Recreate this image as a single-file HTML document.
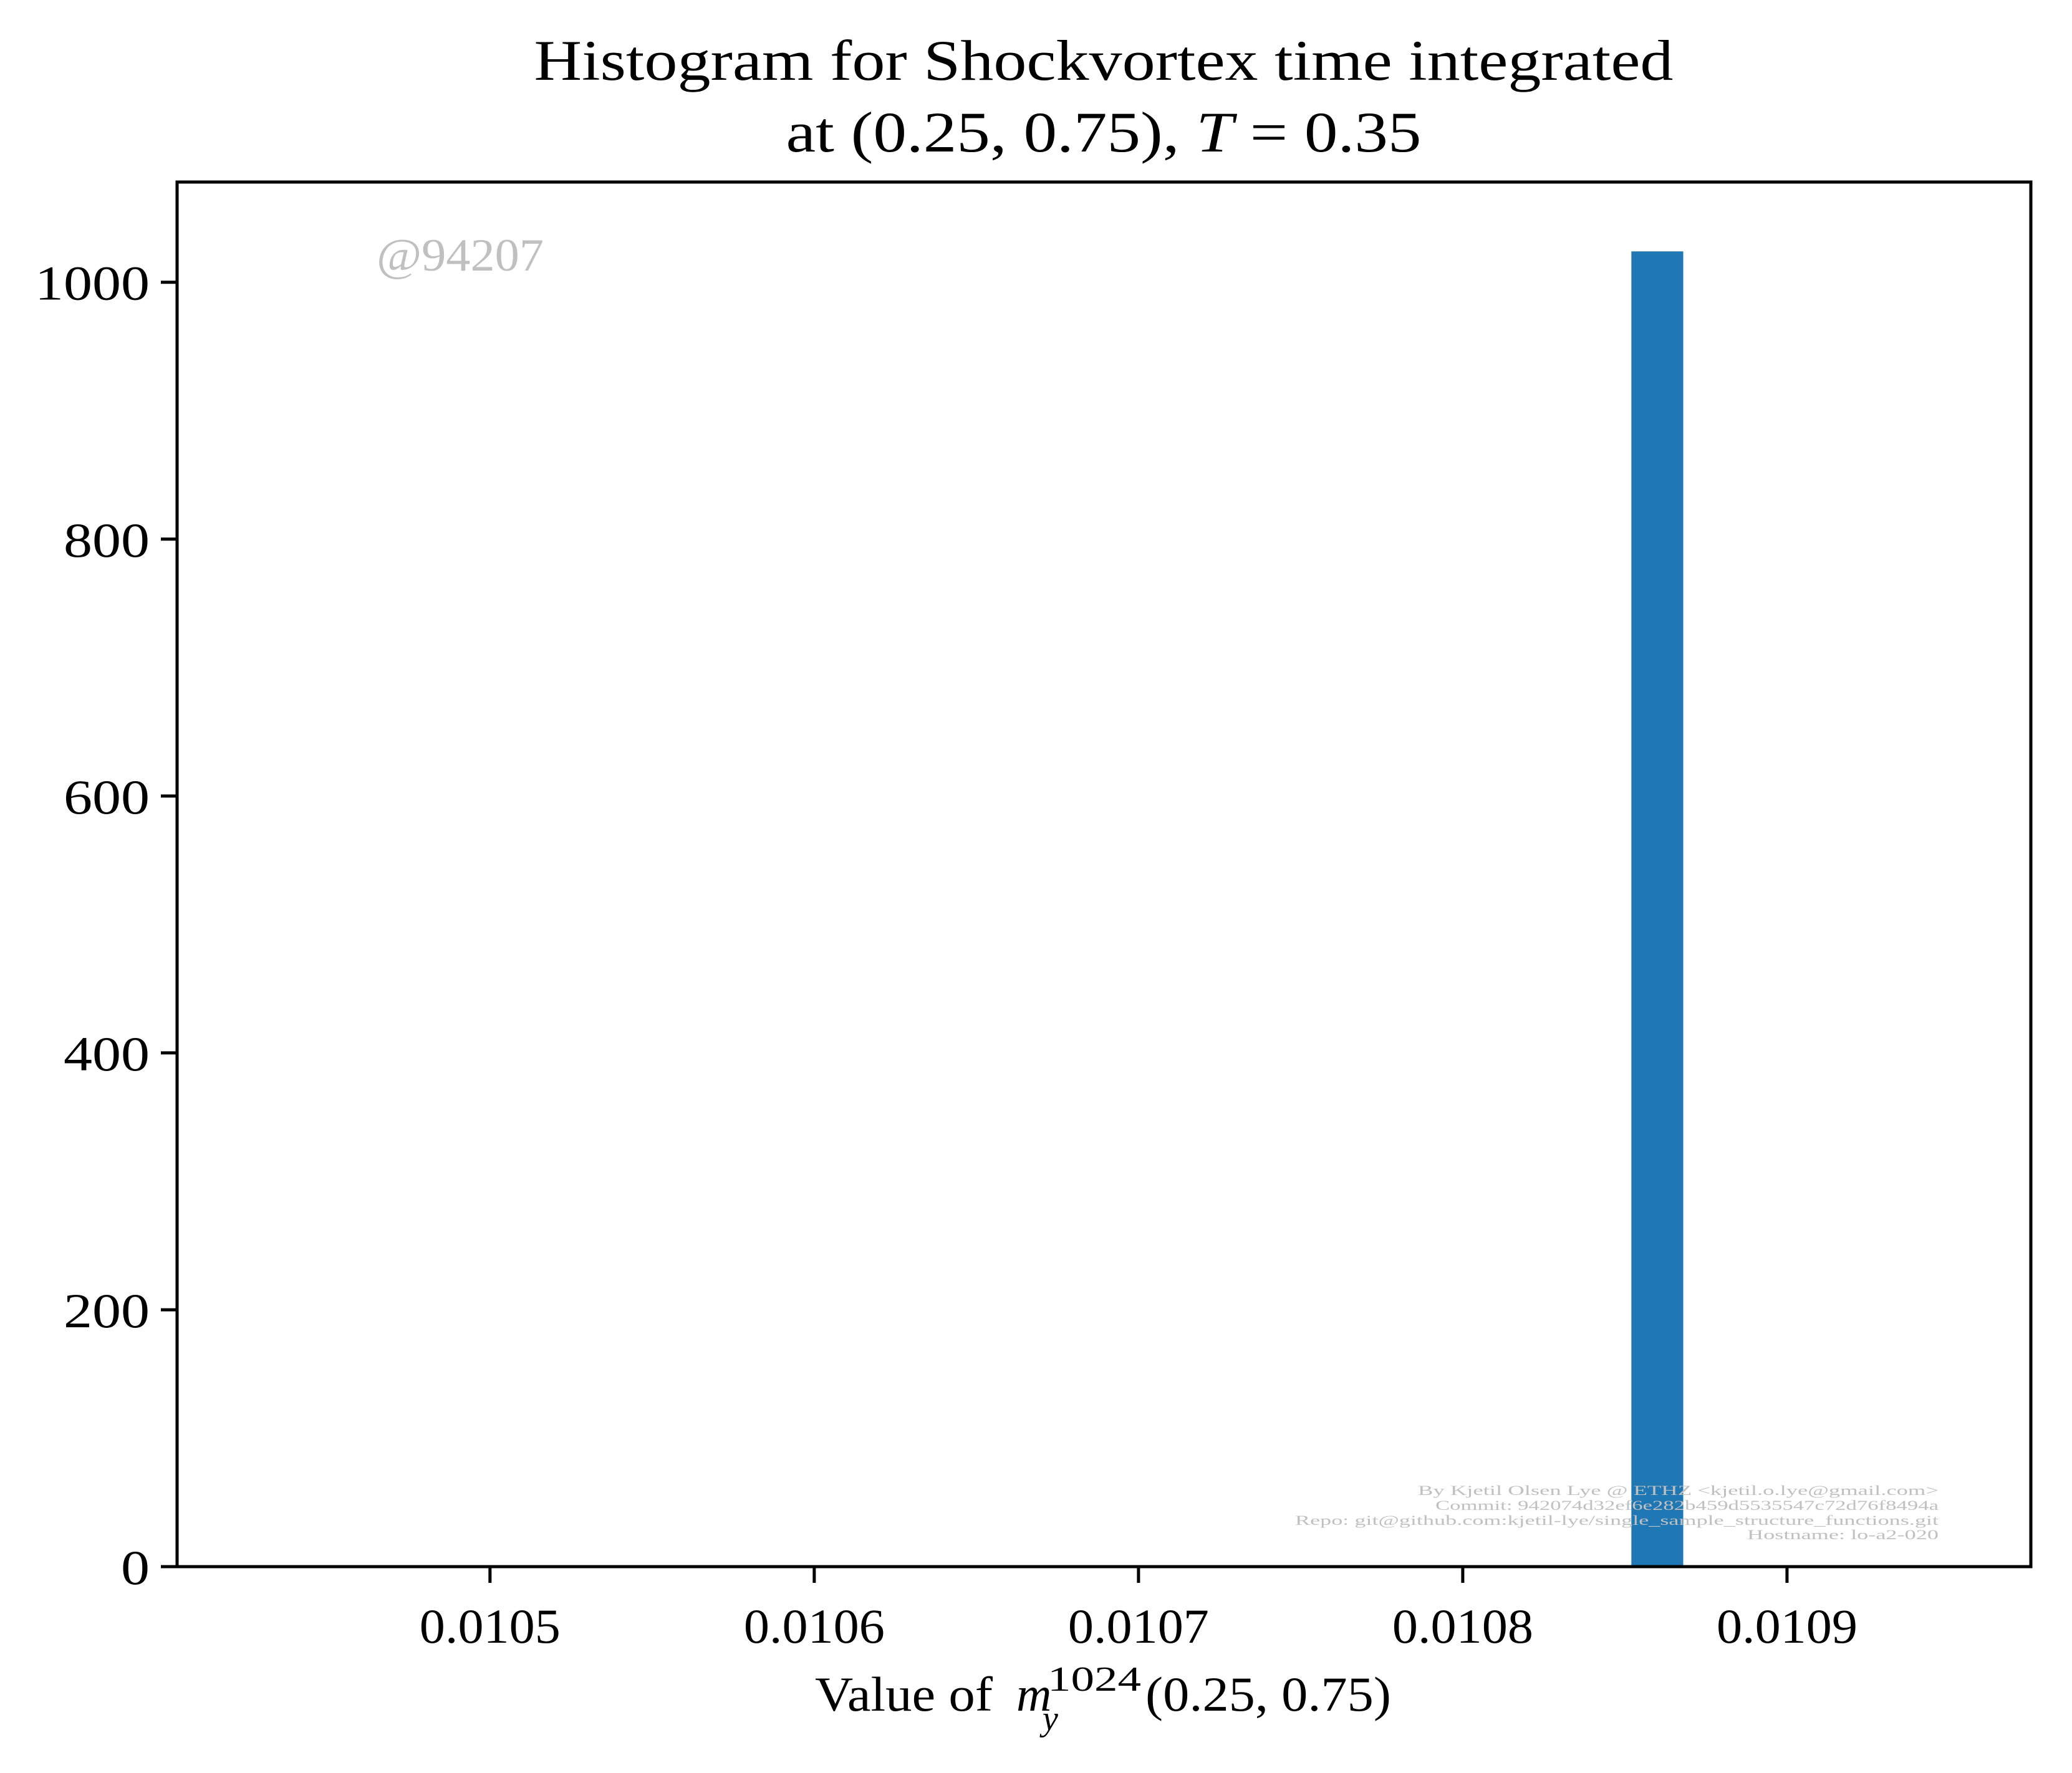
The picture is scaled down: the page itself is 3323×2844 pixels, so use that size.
<!DOCTYPE html>
<html><head><meta charset="utf-8"><style>
html,body{margin:0;padding:0;background:#fff;}
svg{display:block;font-family:"Liberation Serif","DejaVu Serif",serif;}
</style></head><body>
<svg id="chart" width="3323" height="2844" viewBox="0 0 3323 2844" xmlns="http://www.w3.org/2000/svg">
<rect width="3323" height="2844" fill="#fff"/>
<text x="1770" y="128" font-size="92" text-anchor="middle" textLength="1827" lengthAdjust="spacingAndGlyphs">Histogram for Shockvortex time integrated</text>
<text x="1770" y="243" font-size="92" text-anchor="middle" textLength="1019" lengthAdjust="spacingAndGlyphs">at (0.25, 0.75), <tspan font-style="italic">T</tspan> = 0.35</text>
<g id="bars"></g>
<g id="xticks"></g>
<g id="yticks"></g>
<rect x="284" y="292" width="2973" height="2221" fill="none" stroke="#000" stroke-width="5"/>
<text x="604" y="434" font-size="74" fill="#c0c0c0" textLength="268" lengthAdjust="spacingAndGlyphs">@94207</text>
<g font-size="22" fill="#c0c0c0">
<text x="2274" y="2398" textLength="835" lengthAdjust="spacingAndGlyphs">By Kjetil Olsen Lye @ ETHZ &lt;kjetil.o.lye@gmail.com&gt;</text>
<text x="2302" y="2422" textLength="807" lengthAdjust="spacingAndGlyphs">Commit: 942074d32ef6e282b459d5535547c72d76f8494a</text>
<text x="2077" y="2446" textLength="1032" lengthAdjust="spacingAndGlyphs">Repo: git@github.com:kjetil-lye/single_sample_structure_functions.git</text>
<text x="2802" y="2469" textLength="307" lengthAdjust="spacingAndGlyphs">Hostname: lo-a2-020</text>
</g>
<g font-size="78">
<text x="1307" y="2744" textLength="285" lengthAdjust="spacingAndGlyphs">Value of</text>
<text x="1630" y="2744" font-style="italic">m</text>
<text x="1680" y="2712" font-size="56" textLength="150" lengthAdjust="spacingAndGlyphs">1024</text>
<text x="1672" y="2775" font-size="56" font-style="italic">y</text>
<text x="1837" y="2744" textLength="394" lengthAdjust="spacingAndGlyphs">(0.25, 0.75)</text>
</g>
</svg>
<script>
const binEdges = [0.010852, 0.010868];
const counts = [1024];
const xTicks = [0.0105, 0.0106, 0.0107, 0.0108, 0.0109];
const xTickLabels = ["0.0105", "0.0106", "0.0107", "0.0108", "0.0109"];
const yTicks = [0, 200, 400, 600, 800, 1000];
const yTickLabels = ["0", "200", "400", "600", "800", "1000"];
const NS = "http://www.w3.org/2000/svg";
const L = 284, R = 3257, T = 292, B = 2513;
const xMin = 0.0104035, xMax = 0.0109752, yMin = 0, yMax = 1078;
function xs(v){ return L + (v - xMin) / (xMax - xMin) * (R - L); }
function ys(v){ return B - (v - yMin) / (yMax - yMin) * (B - T); }
const gb = document.getElementById('bars');
counts.forEach((c, i) => {
  const r = document.createElementNS(NS, 'rect');
  const x0 = xs(binEdges[i]), x1 = xs(binEdges[i + 1]);
  r.setAttribute('x', x0); r.setAttribute('width', x1 - x0);
  r.setAttribute('y', ys(c)); r.setAttribute('height', ys(0) - ys(c));
  r.setAttribute('fill', '#1f77b4');
  
  
  gb.appendChild(r);
});
const gx = document.getElementById('xticks');
xTicks.forEach((v, i) => {
  const l = document.createElementNS(NS, 'line');
  l.setAttribute('x1', xs(v)); l.setAttribute('x2', xs(v));
  l.setAttribute('y1', B); l.setAttribute('y2', B + 26);
  l.setAttribute('stroke', '#000'); l.setAttribute('stroke-width', '5');
  
  
  gx.appendChild(l);
  const t = document.createElementNS(NS, 'text');
  t.setAttribute('x', xs(v)); t.setAttribute('y', B + 122);
  t.setAttribute('font-size', '78'); t.setAttribute('text-anchor', 'middle');
  t.setAttribute('textLength', '226'); t.setAttribute('lengthAdjust', 'spacingAndGlyphs');
  t.textContent = xTickLabels[i];
  
  
  gx.appendChild(t);
});
const gy = document.getElementById('yticks');
yTicks.forEach((v, i) => {
  const l = document.createElementNS(NS, 'line');
  l.setAttribute('x1', L - 26); l.setAttribute('x2', L);
  l.setAttribute('y1', ys(v)); l.setAttribute('y2', ys(v));
  l.setAttribute('stroke', '#000'); l.setAttribute('stroke-width', '5');
  
  
  gy.appendChild(l);
  const t = document.createElementNS(NS, 'text');
  t.setAttribute('x', L - 44); t.setAttribute('y', ys(v) + 28);
  t.setAttribute('font-size', '78'); t.setAttribute('text-anchor', 'end');
  t.setAttribute('textLength', String(yTickLabels[i].length * 46)); t.setAttribute('lengthAdjust', 'spacingAndGlyphs');
  t.textContent = yTickLabels[i];
  
  
  gy.appendChild(t);
});
</script>
</body></html>
